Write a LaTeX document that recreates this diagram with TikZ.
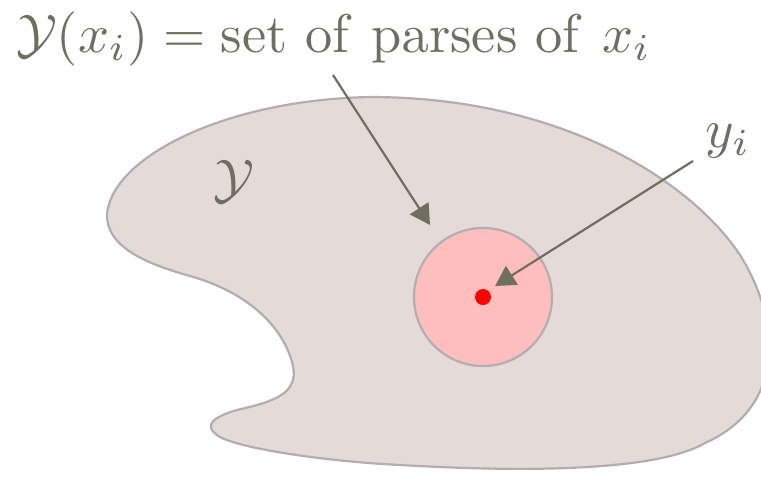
\documentclass[tikz,border=0pt]{standalone}
\usetikzlibrary{arrows.meta}
\definecolor{txtc}{RGB}{111,111,96}
\definecolor{blobfill}{RGB}{228,218,215}
\definecolor{blobline}{RGB}{180,172,178}
\definecolor{pinkfill}{RGB}{255,190,190}
\definecolor{circline}{RGB}{178,174,180}
\tikzset{
  lbl/.style={text=txtc, scale=2.72, inner sep=0pt},
  pointer/.style={draw=txtc, line width=1.1pt, -{Triangle[length=10pt,width=11pt]}},
}
\begin{document}
\begin{tikzpicture}[x=0.5pt,y=-0.5pt]
\useasboundingbox (0,0) rectangle (761,479);
% blob
\draw[fill=blobfill, draw=blobline, line width=1.1pt]
  (107,215) .. controls (110,160) and (220,100) .. (370,97)
  .. controls (560,97) and (690,180) .. (740,255)
  .. controls (778,315) and (790,405) .. (705,443)
  .. controls (655,472) and (520,472) .. (400,465)
  .. controls (320,461) and (240,448) .. (220,437)
  .. controls (200,425) and (215,415) .. (245,408)
  .. controls (280,400) and (300,390) .. (292,362)
  .. controls (280,320) and (240,290) .. (190,276)
  .. controls (140,262) and (107,245) .. (107,215) -- cycle;
% inner circle
\node[circle, fill=pinkfill, draw=circline, line width=1.1pt, minimum size=69pt, inner sep=0pt] (sub) at (483,297) {};
\node[circle, fill=red, minimum size=8pt, inner sep=0pt] (yi) at (483,297) {};
% labels
\node[lbl, anchor=base west] (top) at (15,52) {$\mathcal{Y}(x_i) = \mathrm{set\ of\ parses\ of}\ x_i$};
\node[lbl] (Y) at (234,182) {$\mathcal{Y}$};
\node[lbl] (ylab) at (728,141) {$y_i$};
% pointers
\coordinate (s1) at (333,75);
\coordinate (t1) at (430,225);
\coordinate (s2) at (693,161);
\coordinate (t2) at (495,286);
\draw[pointer] (s1) -- (t1);
\draw[pointer] (s2) -- (t2);
\end{tikzpicture}
\end{document}
